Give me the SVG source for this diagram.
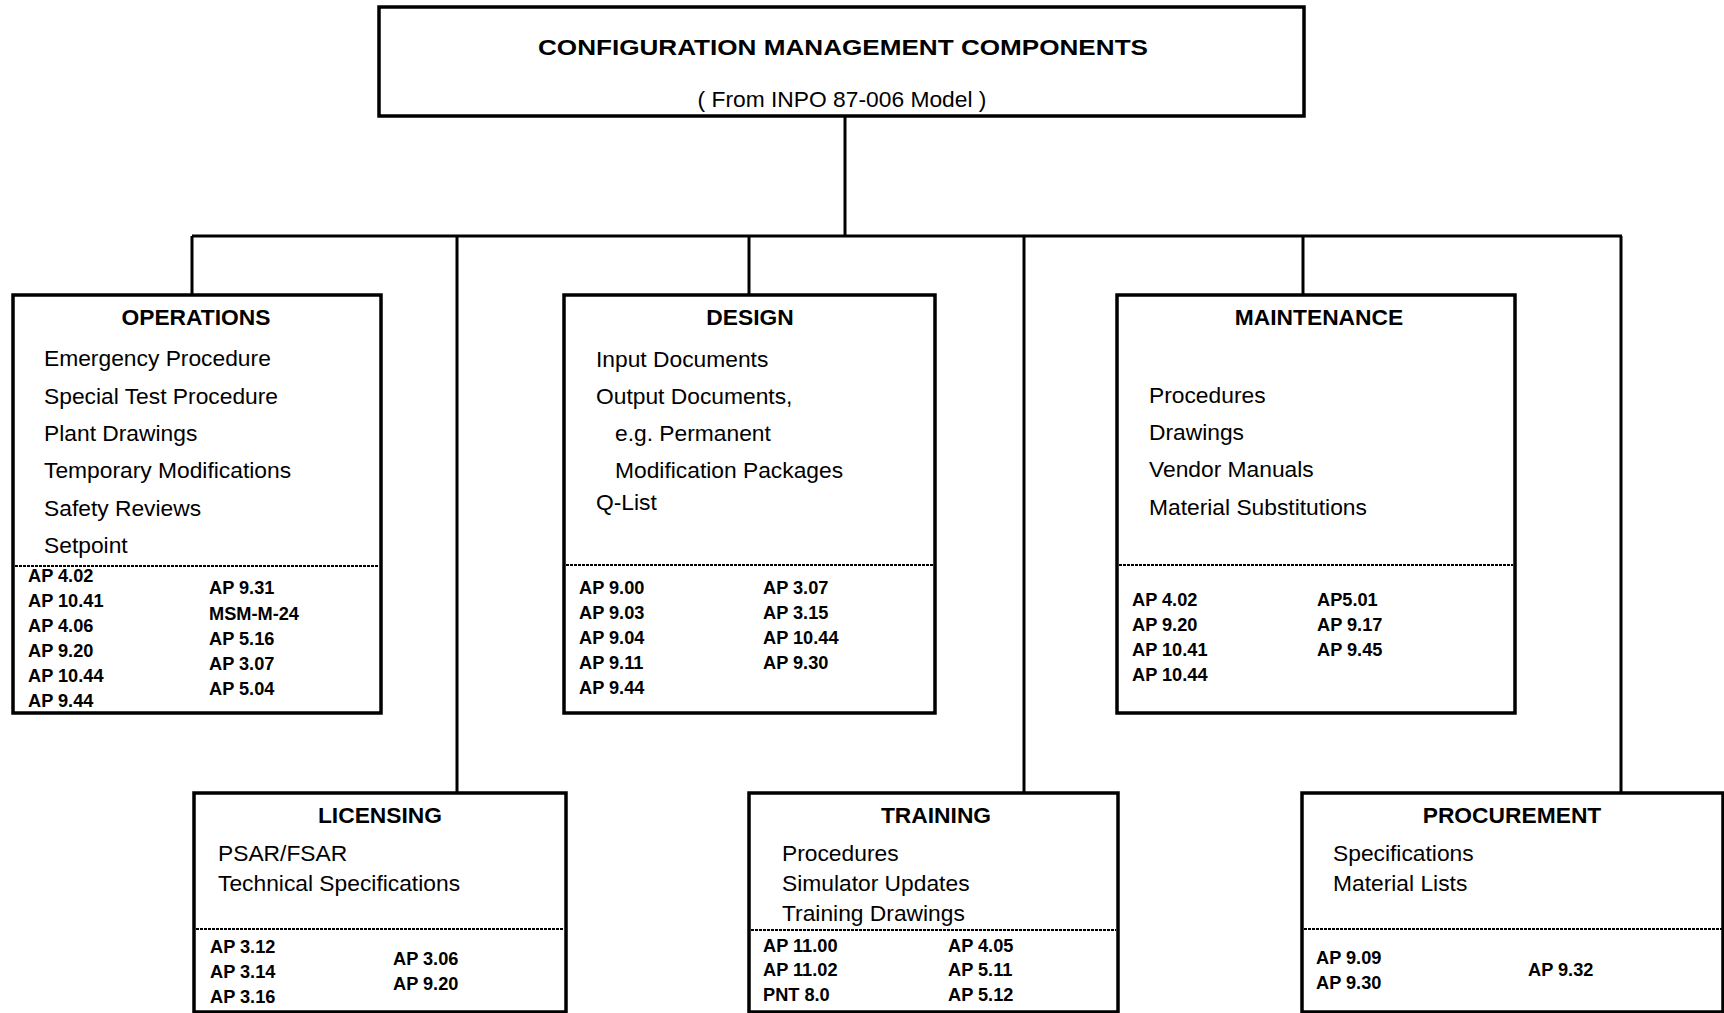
<svg xmlns="http://www.w3.org/2000/svg" width="1724" height="1013" viewBox="0 0 1724 1013">
<style>
.box{fill:#fff;stroke:#000;stroke-width:3.5}
.div{stroke:#000;stroke-width:2;stroke-dasharray:3 1;fill:none}
.con{stroke:#000;stroke-width:3;fill:none}
text{font-family:"Liberation Sans",Arial,sans-serif;fill:#000}
.ttl{font-size:22.8px;font-weight:bold;text-anchor:middle}
.itm{font-size:22.8px}
.ap{font-size:18.2px;font-weight:bold}
</style>
<rect width="1724" height="1013" fill="#fff"/>
<g id="connectors">
<line class="con" x1="845" y1="115" x2="845" y2="236"/>
<line class="con" x1="192" y1="236" x2="1622" y2="236"/>
<line class="con" x1="192" y1="236" x2="192" y2="295"/>
<line class="con" x1="457" y1="236" x2="457" y2="793"/>
<line class="con" x1="749" y1="236" x2="749" y2="295"/>
<line class="con" x1="1024" y1="236" x2="1024" y2="793"/>
<line class="con" x1="1303" y1="236" x2="1303" y2="295"/>
<line class="con" x1="1621" y1="236" x2="1621" y2="793"/>
</g>
<g id="top">
<rect class="box" x="379" y="7" width="925" height="109"/>
<text class="ttl" x="843" y="55" font-size="25" textLength="610" lengthAdjust="spacingAndGlyphs">CONFIGURATION MANAGEMENT COMPONENTS</text>
<text class="itm" x="842" y="107" text-anchor="middle" font-size="21.2">( From INPO 87-006 Model )</text>
</g>
<g id="operations">
<rect class="box" x="13" y="295" width="368" height="418"/>
<line class="div" x1="15" y1="566" x2="379" y2="566"/>
<text class="ttl" x="196" y="325">OPERATIONS</text>
<text class="itm" x="44" y="366">Emergency Procedure</text>
<text class="itm" x="44" y="404">Special Test Procedure</text>
<text class="itm" x="44" y="441">Plant Drawings</text>
<text class="itm" x="44" y="478">Temporary Modifications</text>
<text class="itm" x="44" y="516">Safety Reviews</text>
<text class="itm" x="44" y="553">Setpoint</text>
<text class="ap" x="28" y="582">AP 4.02</text>
<text class="ap" x="28" y="607">AP 10.41</text>
<text class="ap" x="28" y="632">AP 4.06</text>
<text class="ap" x="28" y="657">AP 9.20</text>
<text class="ap" x="28" y="682">AP 10.44</text>
<text class="ap" x="28" y="707">AP 9.44</text>
<text class="ap" x="209" y="594">AP 9.31</text>
<text class="ap" x="209" y="620">MSM-M-24</text>
<text class="ap" x="209" y="645">AP 5.16</text>
<text class="ap" x="209" y="670">AP 3.07</text>
<text class="ap" x="209" y="695">AP 5.04</text>
</g>
<g id="design">
<rect class="box" x="564" y="295" width="371" height="418"/>
<line class="div" x1="566" y1="565" x2="933" y2="565"/>
<text class="ttl" x="750" y="325">DESIGN</text>
<text class="itm" x="596" y="367">Input Documents</text>
<text class="itm" x="596" y="404">Output Documents,</text>
<text class="itm" x="615" y="441">e.g. Permanent</text>
<text class="itm" x="615" y="478">Modification Packages</text>
<text class="itm" x="596" y="510">Q-List</text>
<text class="ap" x="579" y="594">AP 9.00</text>
<text class="ap" x="579" y="619">AP 9.03</text>
<text class="ap" x="579" y="644">AP 9.04</text>
<text class="ap" x="579" y="669">AP 9.11</text>
<text class="ap" x="579" y="694">AP 9.44</text>
<text class="ap" x="763" y="594">AP 3.07</text>
<text class="ap" x="763" y="619">AP 3.15</text>
<text class="ap" x="763" y="644">AP 10.44</text>
<text class="ap" x="763" y="669">AP 9.30</text>
</g>
<g id="maintenance">
<rect class="box" x="1117" y="295" width="398" height="418"/>
<line class="div" x1="1119" y1="565" x2="1513" y2="565"/>
<text class="ttl" x="1319" y="325">MAINTENANCE</text>
<text class="itm" x="1149" y="403">Procedures</text>
<text class="itm" x="1149" y="440">Drawings</text>
<text class="itm" x="1149" y="477">Vendor Manuals</text>
<text class="itm" x="1149" y="515">Material Substitutions</text>
<text class="ap" x="1132" y="606">AP 4.02</text>
<text class="ap" x="1132" y="631">AP 9.20</text>
<text class="ap" x="1132" y="656">AP 10.41</text>
<text class="ap" x="1132" y="681">AP 10.44</text>
<text class="ap" x="1317" y="606">AP5.01</text>
<text class="ap" x="1317" y="631">AP 9.17</text>
<text class="ap" x="1317" y="656">AP 9.45</text>
</g>
<g id="licensing">
<rect class="box" x="194" y="793" width="372" height="219"/>
<line class="div" x1="196" y1="929" x2="564" y2="929"/>
<text class="ttl" x="380" y="823">LICENSING</text>
<text class="itm" x="218" y="861">PSAR/FSAR</text>
<text class="itm" x="218" y="891">Technical Specifications</text>
<text class="ap" x="210" y="953">AP 3.12</text>
<text class="ap" x="210" y="978">AP 3.14</text>
<text class="ap" x="210" y="1003">AP 3.16</text>
<text class="ap" x="393" y="965">AP 3.06</text>
<text class="ap" x="393" y="990">AP 9.20</text>
</g>
<g id="training">
<rect class="box" x="749" y="793" width="369" height="219"/>
<line class="div" x1="751" y1="930" x2="1116" y2="930"/>
<text class="ttl" x="936" y="823">TRAINING</text>
<text class="itm" x="782" y="861">Procedures</text>
<text class="itm" x="782" y="891">Simulator Updates</text>
<text class="itm" x="782" y="921">Training Drawings</text>
<text class="ap" x="763" y="952">AP 11.00</text>
<text class="ap" x="763" y="976">AP 11.02</text>
<text class="ap" x="763" y="1001">PNT 8.0</text>
<text class="ap" x="948" y="952">AP 4.05</text>
<text class="ap" x="948" y="976">AP 5.11</text>
<text class="ap" x="948" y="1001">AP 5.12</text>
</g>
<g id="procurement">
<rect class="box" x="1302" y="793" width="421" height="219"/>
<line class="div" x1="1304" y1="929" x2="1722" y2="929"/>
<text class="ttl" x="1512" y="823">PROCUREMENT</text>
<text class="itm" x="1333" y="861">Specifications</text>
<text class="itm" x="1333" y="891">Material Lists</text>
<text class="ap" x="1316" y="964">AP 9.09</text>
<text class="ap" x="1316" y="989">AP 9.30</text>
<text class="ap" x="1528" y="976">AP 9.32</text>
</g>
</svg>
